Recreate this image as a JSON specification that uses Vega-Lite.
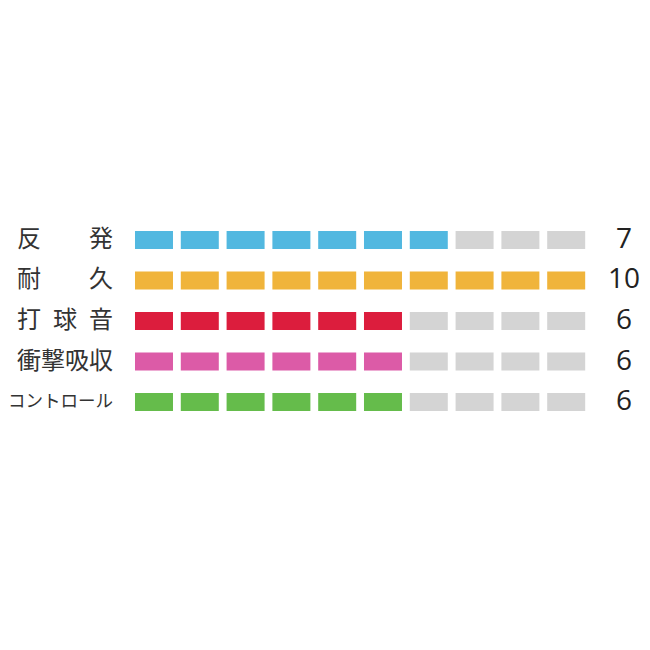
{
  "$schema": "https://vega.github.io/schema/vega-lite/v6.json",
  "width": 650,
  "height": 650,
  "autosize": {"type": "fit", "contains": "padding"},
  "padding": 0,
  "background": "white",
  "datasets": {
    "scores": [
      {"item": "反　　発", "value": 7},
      {"item": "耐　　久", "value": 10},
      {"item": "打\u2002球\u2002音", "value": 6},
      {"item": "衝撃吸収", "value": 6},
      {"item": "コントロール", "value": 6}
    ],
    "segments": [
      {"item": "反　　発", "seg": 1}, {"item": "反　　発", "seg": 2}, {"item": "反　　発", "seg": 3}, {"item": "反　　発", "seg": 4}, {"item": "反　　発", "seg": 5},
      {"item": "反　　発", "seg": 6}, {"item": "反　　発", "seg": 7}, {"item": "反　　発", "seg": 8}, {"item": "反　　発", "seg": 9}, {"item": "反　　発", "seg": 10},
      {"item": "耐　　久", "seg": 1}, {"item": "耐　　久", "seg": 2}, {"item": "耐　　久", "seg": 3}, {"item": "耐　　久", "seg": 4}, {"item": "耐　　久", "seg": 5},
      {"item": "耐　　久", "seg": 6}, {"item": "耐　　久", "seg": 7}, {"item": "耐　　久", "seg": 8}, {"item": "耐　　久", "seg": 9}, {"item": "耐　　久", "seg": 10},
      {"item": "打\u2002球\u2002音", "seg": 1}, {"item": "打\u2002球\u2002音", "seg": 2}, {"item": "打\u2002球\u2002音", "seg": 3}, {"item": "打\u2002球\u2002音", "seg": 4}, {"item": "打\u2002球\u2002音", "seg": 5},
      {"item": "打\u2002球\u2002音", "seg": 6}, {"item": "打\u2002球\u2002音", "seg": 7}, {"item": "打\u2002球\u2002音", "seg": 8}, {"item": "打\u2002球\u2002音", "seg": 9}, {"item": "打\u2002球\u2002音", "seg": 10},
      {"item": "衝撃吸収", "seg": 1}, {"item": "衝撃吸収", "seg": 2}, {"item": "衝撃吸収", "seg": 3}, {"item": "衝撃吸収", "seg": 4}, {"item": "衝撃吸収", "seg": 5},
      {"item": "衝撃吸収", "seg": 6}, {"item": "衝撃吸収", "seg": 7}, {"item": "衝撃吸収", "seg": 8}, {"item": "衝撃吸収", "seg": 9}, {"item": "衝撃吸収", "seg": 10},
      {"item": "コントロール", "seg": 1}, {"item": "コントロール", "seg": 2}, {"item": "コントロール", "seg": 3}, {"item": "コントロール", "seg": 4}, {"item": "コントロール", "seg": 5},
      {"item": "コントロール", "seg": 6}, {"item": "コントロール", "seg": 7}, {"item": "コントロール", "seg": 8}, {"item": "コントロール", "seg": 9}, {"item": "コントロール", "seg": 10}
    ]
  },
  "encoding": {
    "y": {
      "field": "item",
      "type": "nominal",
      "sort": ["反　　発", "耐　　久", "打\u2002球\u2002音", "衝撃吸収", "コントロール"],
      "scale": {"range": [231, 411], "paddingInner": 0.556, "paddingOuter": 0},
      "axis": null
    }
  },
  "layer": [
    {
      "data": {"name": "segments"},
      "transform": [
        {"lookup": "item", "from": {"data": {"name": "scores"}, "key": "item", "fields": ["value"]}}
      ],
      "mark": {"type": "rect", "width": 38},
      "encoding": {
        "x": {
          "field": "seg",
          "type": "quantitative",
          "scale": {"domain": [-2.3624, 11.83], "nice": false, "zero": false},
          "axis": null
        },
        "color": {
          "condition": {
            "test": "datum.seg <= datum.value",
            "field": "item",
            "type": "nominal",
            "scale": {
              "domain": ["反　　発", "耐　　久", "打\u2002球\u2002音", "衝撃吸収", "コントロール"],
              "range": ["#52b8e0", "#f0b43b", "#dc1d3d", "#dc5ba7", "#65bc4b"]
            },
            "legend": null
          },
          "value": "#d4d4d4"
        }
      }
    },
    {
      "data": {"name": "scores"},
      "mark": {"type": "text", "align": "right", "baseline": "middle", "font": "Noto Sans CJK JP", "color": "#333333"},
      "encoding": {
        "x": {"datum": 0.105, "type": "quantitative"},
        "text": {"field": "item"},
        "size": {"condition": {"test": "datum.item == 'コントロール'", "value": 17.5}, "value": 24}
      }
    },
    {
      "data": {"name": "scores"},
      "mark": {"type": "text", "align": "center", "baseline": "middle", "font": "Open Sans", "fontSize": 28, "color": "#222222"},
      "encoding": {
        "x": {"datum": 11.26, "type": "quantitative"},
        "text": {"field": "value", "type": "quantitative"}
      }
    }
  ],
  "config": {
    "view": {"stroke": null}
  }
}
